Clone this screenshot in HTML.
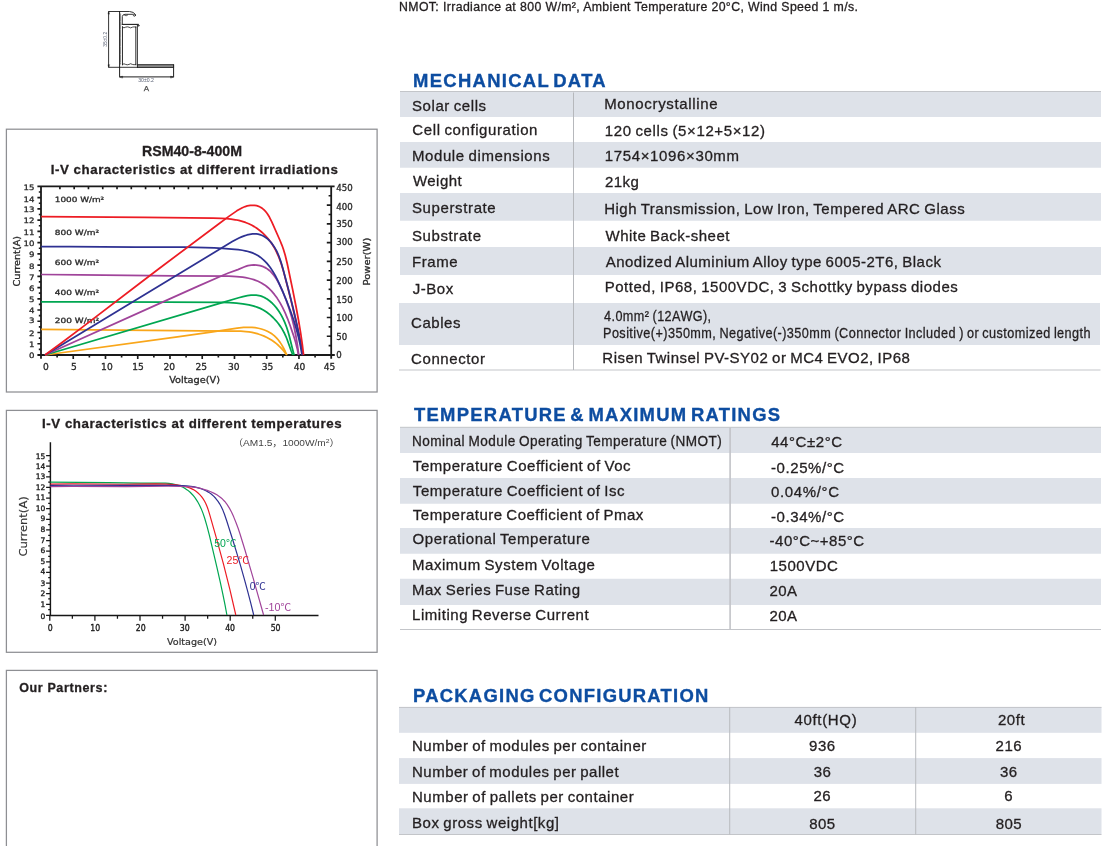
<!DOCTYPE html>
<html lang="en">
<head>
<meta charset="utf-8">
<title>RSM40-8-400M datasheet</title>
<style>
html,body{margin:0;padding:0;background:#fff;}
body{width:1108px;height:846px;position:relative;overflow:hidden;font-family:"Liberation Sans",sans-serif;color:#231f20;}
.t{position:absolute;white-space:pre;line-height:1;transform-origin:0 50%;-webkit-text-stroke:0.3px;}
.h{-webkit-text-stroke:0.35px;}
svg{position:absolute;left:0;top:0;}
svg .dv{font-family:"DejaVu Sans","Liberation Sans",sans-serif;}
svg .dvc{font-family:"DejaVu Sans Condensed","DejaVu Sans","Liberation Sans",sans-serif;}
svg .ls{font-family:"Liberation Sans","Noto Sans CJK SC",sans-serif;}
</style>
</head>
<body>
<svg width="1108" height="846" viewBox="0 0 1108 846">
<g class="tables">
<rect x="400.00" y="92.00" width="701.00" height="25.00" fill="#dee2e9"/>
<rect x="400.00" y="142.00" width="701.00" height="25.75" fill="#dee2e9"/>
<rect x="400.00" y="193.00" width="701.00" height="27.75" fill="#dee2e9"/>
<rect x="400.00" y="247.00" width="701.00" height="28.00" fill="#dee2e9"/>
<rect x="399.00" y="303.00" width="701.00" height="42.00" fill="#dee2e9"/>
<rect x="400.00" y="91.00" width="701.00" height="1.00" fill="#c3c5c9"/>
<rect x="399.00" y="369.50" width="701.50" height="1.00" fill="#c3c5c9"/>
<rect x="573.00" y="92.50" width="1.00" height="277.50" fill="#b6b8bc"/>
<rect x="400.00" y="427.25" width="701.00" height="25.75" fill="#dee2e9"/>
<rect x="400.00" y="478.00" width="701.00" height="25.75" fill="#dee2e9"/>
<rect x="400.00" y="528.00" width="701.00" height="25.75" fill="#dee2e9"/>
<rect x="400.00" y="578.75" width="701.00" height="26.25" fill="#dee2e9"/>
<rect x="400.00" y="426.80" width="701.00" height="1.00" fill="#c3c5c9"/>
<rect x="400.00" y="629.00" width="701.00" height="1.00" fill="#c3c5c9"/>
<rect x="729.30" y="427.50" width="1.60" height="202.00" fill="#c2c4c8"/>
<rect x="399.00" y="707.00" width="702.50" height="25.80" fill="#dee2e9"/>
<rect x="399.00" y="758.10" width="702.50" height="25.80" fill="#dee2e9"/>
<rect x="399.00" y="808.30" width="702.50" height="25.90" fill="#dee2e9"/>
<rect x="399.00" y="706.90" width="702.50" height="1.00" fill="#c3c5c9"/>
<rect x="399.00" y="834.00" width="702.50" height="1.00" fill="#c3c5c9"/>
<rect x="729.20" y="707.00" width="1.00" height="127.50" fill="#b9bbbf"/>
<rect x="915.20" y="707.00" width="1.00" height="127.50" fill="#b9bbbf"/>
</g>
<g class="boxes" fill="none" stroke="#8e8f93" stroke-width="1.25">
<rect x="6.4" y="129.2" width="370.70" height="262.80"/>
<rect x="6.4" y="410.4" width="370.70" height="241.90"/>
<rect x="6.4" y="670.4" width="370.70" height="189.60"/>
</g>
<g class="chart1">
<path d="M41.0,186.4V358.8M331.2,186.4V358.8M37.4,186.4H334.59999999999997M37.4,355.0H334.8" stroke="#1a1a1a" stroke-width="1.8" fill="none"/>
<path d="M57.12,355.0v2.6M73.24,355.0v3.9M89.37,355.0v2.6M105.49,355.0v3.9M121.61,355.0v2.6M137.73,355.0v3.9M153.86,355.0v2.6M169.98,355.0v3.9M186.10,355.0v2.6M202.22,355.0v3.9M218.34,355.0v2.6M234.47,355.0v3.9M250.59,355.0v2.6M266.71,355.0v3.9M282.83,355.0v2.6M298.96,355.0v3.9M315.08,355.0v2.6M59.90,186.4v2.9M74.18,186.4v2.9M88.46,186.4v2.9M102.74,186.4v2.9M117.02,186.4v2.9M131.30,186.4v2.9M145.58,186.4v2.9M159.86,186.4v2.9M174.14,186.4v2.9M188.42,186.4v2.9M202.70,186.4v2.9M216.98,186.4v2.9M231.26,186.4v2.9M245.54,186.4v2.9M259.82,186.4v2.9M274.10,186.4v2.9M288.38,186.4v2.9M302.66,186.4v2.9M316.94,186.4v2.9M41.0,349.38h-2.2M41.0,343.76h-3.6M41.0,338.14h-2.2M41.0,332.52h-3.6M41.0,326.90h-2.2M41.0,321.28h-3.6M41.0,315.66h-2.2M41.0,310.04h-3.6M41.0,304.42h-2.2M41.0,298.80h-3.6M41.0,293.18h-2.2M41.0,287.56h-3.6M41.0,281.94h-2.2M41.0,276.32h-3.6M41.0,270.70h-2.2M41.0,265.08h-3.6M41.0,259.46h-2.2M41.0,253.84h-3.6M41.0,248.22h-2.2M41.0,242.60h-3.6M41.0,236.98h-2.2M41.0,231.36h-3.6M41.0,225.74h-2.2M41.0,220.12h-3.6M41.0,214.50h-2.2M41.0,208.88h-3.6M41.0,203.26h-2.2M41.0,197.64h-3.6M41.0,192.02h-2.2M331.2,345.63h-2.6M331.2,336.27h-4.4M331.2,326.90h-2.6M331.2,317.53h-4.4M331.2,308.17h-2.6M331.2,298.80h-4.4M331.2,289.43h-2.6M331.2,280.07h-4.4M331.2,270.70h-2.6M331.2,261.33h-4.4M331.2,251.97h-2.6M331.2,242.60h-4.4M331.2,233.23h-2.6M331.2,223.87h-4.4M331.2,214.50h-2.6M331.2,205.13h-4.4M331.2,195.77h-2.6" stroke="#1a1a1a" stroke-width="1.65" fill="none"/>
<g class="dv" fill="#2a2a2a" stroke="#2a2a2a" stroke-width="0.3">
<text x="29.03" y="357.55" font-size="7.4" textLength="5.47" lengthAdjust="spacingAndGlyphs">0</text>
<text x="29.03" y="346.95" font-size="7.4" textLength="5.47" lengthAdjust="spacingAndGlyphs">1</text>
<text x="29.03" y="335.75" font-size="7.4" textLength="5.47" lengthAdjust="spacingAndGlyphs">2</text>
<text x="29.03" y="323.35" font-size="7.4" textLength="5.47" lengthAdjust="spacingAndGlyphs">3</text>
<text x="29.03" y="313.45" font-size="7.4" textLength="5.47" lengthAdjust="spacingAndGlyphs">4</text>
<text x="29.03" y="302.45" font-size="7.4" textLength="5.47" lengthAdjust="spacingAndGlyphs">5</text>
<text x="29.03" y="290.65" font-size="7.4" textLength="5.47" lengthAdjust="spacingAndGlyphs">6</text>
<text x="29.03" y="280.25" font-size="7.4" textLength="5.47" lengthAdjust="spacingAndGlyphs">7</text>
<text x="29.03" y="268.65" font-size="7.4" textLength="5.47" lengthAdjust="spacingAndGlyphs">8</text>
<text x="29.03" y="257.45" font-size="7.4" textLength="5.47" lengthAdjust="spacingAndGlyphs">9</text>
<text x="23.56" y="245.95" font-size="7.4" textLength="10.94" lengthAdjust="spacingAndGlyphs">10</text>
<text x="23.56" y="234.75" font-size="7.4" textLength="10.94" lengthAdjust="spacingAndGlyphs">11</text>
<text x="23.56" y="222.55" font-size="7.4" textLength="10.94" lengthAdjust="spacingAndGlyphs">12</text>
<text x="23.56" y="211.75" font-size="7.4" textLength="10.94" lengthAdjust="spacingAndGlyphs">13</text>
<text x="23.56" y="201.95" font-size="7.4" textLength="10.94" lengthAdjust="spacingAndGlyphs">14</text>
<text x="23.56" y="189.65" font-size="7.4" textLength="10.94" lengthAdjust="spacingAndGlyphs">15</text>
<text x="336.20" y="357.90" font-size="8.3" textLength="5.47" lengthAdjust="spacingAndGlyphs">0</text>
<text x="336.20" y="340.00" font-size="8.3" textLength="10.94" lengthAdjust="spacingAndGlyphs">50</text>
<text x="336.20" y="321.10" font-size="8.3" textLength="16.42" lengthAdjust="spacingAndGlyphs">100</text>
<text x="336.20" y="302.60" font-size="8.3" textLength="16.42" lengthAdjust="spacingAndGlyphs">150</text>
<text x="336.20" y="283.70" font-size="8.3" textLength="16.42" lengthAdjust="spacingAndGlyphs">200</text>
<text x="336.20" y="265.10" font-size="8.3" textLength="16.42" lengthAdjust="spacingAndGlyphs">250</text>
<text x="336.20" y="245.40" font-size="8.3" textLength="16.42" lengthAdjust="spacingAndGlyphs">300</text>
<text x="336.20" y="226.70" font-size="8.3" textLength="16.42" lengthAdjust="spacingAndGlyphs">350</text>
<text x="336.20" y="209.60" font-size="8.3" textLength="16.42" lengthAdjust="spacingAndGlyphs">400</text>
<text x="336.20" y="190.70" font-size="8.3" textLength="16.42" lengthAdjust="spacingAndGlyphs">450</text>
<text x="43.11" y="369.70" font-size="8.7" textLength="5.79" lengthAdjust="spacingAndGlyphs">0</text>
<text x="71.11" y="369.70" font-size="8.7" textLength="5.79" lengthAdjust="spacingAndGlyphs">5</text>
<text x="101.11" y="369.70" font-size="8.7" textLength="11.58" lengthAdjust="spacingAndGlyphs">10</text>
<text x="132.31" y="369.70" font-size="8.7" textLength="11.58" lengthAdjust="spacingAndGlyphs">15</text>
<text x="163.51" y="369.70" font-size="8.7" textLength="11.58" lengthAdjust="spacingAndGlyphs">20</text>
<text x="195.51" y="369.70" font-size="8.7" textLength="11.58" lengthAdjust="spacingAndGlyphs">25</text>
<text x="228.01" y="369.70" font-size="8.7" textLength="11.58" lengthAdjust="spacingAndGlyphs">30</text>
<text x="261.71" y="369.70" font-size="8.7" textLength="11.58" lengthAdjust="spacingAndGlyphs">35</text>
<text x="293.71" y="369.70" font-size="8.7" textLength="11.58" lengthAdjust="spacingAndGlyphs">40</text>
<text x="323.71" y="369.70" font-size="8.7" textLength="11.58" lengthAdjust="spacingAndGlyphs">45</text>
<text x="54.80" y="201.60" font-size="7.2" textLength="49.40" lengthAdjust="spacingAndGlyphs">1000 W/m²</text>
<text x="54.80" y="235.20" font-size="7.2" textLength="44.20" lengthAdjust="spacingAndGlyphs">800 W/m²</text>
<text x="54.80" y="265.20" font-size="7.2" textLength="44.20" lengthAdjust="spacingAndGlyphs">600 W/m²</text>
<text x="54.80" y="294.90" font-size="7.2" textLength="44.20" lengthAdjust="spacingAndGlyphs">400 W/m²</text>
<text x="54.80" y="322.50" font-size="7.2" textLength="44.20" lengthAdjust="spacingAndGlyphs">200 W/m²</text>
<text x="169.20" y="382.80" font-size="9.2" textLength="50.80" lengthAdjust="spacingAndGlyphs">Voltage(V)</text>
<g transform="translate(20.2,261.2) rotate(-90)">
<text x="-25.25" y="0.00" font-size="9.0" textLength="50.50" lengthAdjust="spacingAndGlyphs">Current(A)</text>
</g>
<g transform="translate(369.6,261.6) rotate(-90)">
<text x="-23.90" y="0.00" font-size="9.0" textLength="47.80" lengthAdjust="spacingAndGlyphs">Power(W)</text>
</g>
</g>
<path d="M41.2,329.4 202.55,330.96 235.05,331 240.79,331.15 245.85,331.52 248.98,331.91 252.09,332.44 255.17,333.12 258.2,333.96 261.18,334.96 264.09,336.13 266.94,337.46 269.15,338.65 271.84,340.29 273.92,341.72 276.43,343.67 278.82,345.77 280.65,347.56 282.83,349.91 284.88,352.4 286.8,355" fill="none" stroke="#f9a61a" stroke-width="1.75" stroke-linejoin="round" stroke-linecap="butt"/>
<path d="M45,355 177.37,336.89 211,332.12 237.16,328.18 243.59,327.48 248.74,327.29 251.96,327.4 255.17,327.71 258.33,328.24 261.44,328.99 264.45,329.98 267.35,331.21 270.11,332.7 272.2,334.09 274.17,335.65 276.46,337.85 278.15,339.79 280.1,342.38 281.88,345.13 283.5,347.99 285.24,351.49 286.8,355" fill="none" stroke="#f9a61a" stroke-width="1.75" stroke-linejoin="round" stroke-linecap="butt"/>
<path d="M41.2,301.8 78.2,301.84 166.79,302.2 221.29,302.3 229.66,302.56 236.59,303.05 242.8,303.78 248.96,304.87 253.02,305.84 256.99,307.09 260.21,308.39 263.31,309.99 266.83,312.3 270.15,314.91 273.24,317.75 276.1,320.8 278.31,323.49 280.74,326.88 282.58,329.83 284.55,333.51 285.72,336.03 287.04,339.26 291.02,350.46 292.8,355" fill="none" stroke="#00a651" stroke-width="1.75" stroke-linejoin="round" stroke-linecap="butt"/>
<path d="M45,355 223.05,302.44 238.66,297.75 242.97,296.6 247.34,295.7 251.04,295.23 253.99,295.1 256.18,295.19 257.62,295.35 260.45,295.93 261.82,296.37 263.83,297.21 265.13,297.88 267.03,299.02 270.02,301.24 271.71,302.72 273.31,304.29 276.25,307.63 278.87,311.21 280.83,314.36 282.92,318.29 284.76,322.36 286.63,327.22 288,331.44 289.22,335.68 292.76,349.95 294.1,355" fill="none" stroke="#00a651" stroke-width="1.75" stroke-linejoin="round" stroke-linecap="butt"/>
<path d="M41.2,274.5 80.9,274.81 173.94,275.88 228.97,276.21 236.58,276.56 242.63,277.19 245.63,277.66 248.62,278.26 251.58,278.99 253.78,279.64 258.05,281.24 261.43,282.91 264.61,284.92 266.42,286.28 268.15,287.74 271.41,290.93 274.39,294.4 277.1,298.1 279.96,302.61 282.53,307.31 285.16,312.86 287.53,318.54 290.2,325.74 293.39,335.11 295.61,342.33 297.31,348.95 298.5,355" fill="none" stroke="#a0449a" stroke-width="1.75" stroke-linejoin="round" stroke-linecap="butt"/>
<path d="M45,355 169.18,299.08 197.6,286.42 223,275.26 228.44,273.02 237.88,269.57 244.02,267.03 246.36,266.17 247.98,265.7 249.66,265.34 251.37,265.1 254,264.96 256.63,265.09 258.36,265.32 260.05,265.66 261.68,266.12 263.24,266.68 264.73,267.36 266.14,268.14 268.13,269.48 269.38,270.48 271.14,272.13 272.24,273.33 273.8,275.23 275.25,277.26 276.61,279.4 277.89,281.62 279.48,284.67 283.07,292.48 286.24,300.35 289,308.29 291.63,317.1 293.86,326.01 295.73,335 297.42,344.94 298.8,355" fill="none" stroke="#a0449a" stroke-width="1.75" stroke-linejoin="round" stroke-linecap="butt"/>
<path d="M41.2,216.6 144.52,217.46 213.12,218.13 221.23,218.33 226.59,218.65 231.02,219.1 235.38,219.76 238.81,220.47 242.2,221.35 245.51,222.44 248.76,223.76 251.93,225.31 254.24,226.62 256.49,228.05 260.08,230.71 262.13,232.46 264.1,234.31 265.98,236.25 267.77,238.28 271.06,242.55 273.94,247.05 275.23,249.37 276.81,252.53 279.25,258.21 281.33,264.05 283.65,271.72 287.06,284.68 291.18,301.1 294.5,314.94 297.64,328.82 300.42,341.88 303,355" fill="none" stroke="#ed1c24" stroke-width="1.75" stroke-linejoin="round" stroke-linecap="butt"/>
<path d="M41.2,246.5 69.19,246.55 135.16,247.21 184.53,247.18 195.23,247.31 205.12,247.55 214.2,247.9 222.46,248.35 231.56,249.03 238.18,249.68 242.28,250.25 246.29,251.03 250.2,252.09 253.23,253.19 256.85,254.95 258.25,255.78 260.28,257.18 263.48,259.82 265.28,261.57 266.98,263.41 270.09,267.28 272.86,271.38 275.34,275.65 277.95,280.79 282.35,290.59 286.78,301.26 290.59,311.26 293.79,320.59 296.41,329.23 298.7,337.98 300.61,346.84 302,355" fill="none" stroke="#2e3192" stroke-width="1.75" stroke-linejoin="round" stroke-linecap="butt"/>
<path d="M45,355 232.3,241.55 235.63,239.69 239.01,237.99 241.6,236.84 244.25,235.82 246.97,234.97 249.75,234.31 252.56,233.93 254.43,233.86 256.28,233.95 258.11,234.21 259.9,234.64 261.63,235.24 263.29,236.01 264.89,236.93 266.42,238 267.87,239.19 269.26,240.5 271.22,242.66 272.43,244.2 274.11,246.64 276.57,250.93 277.82,253.57 278.94,256.23 280.82,261.61 282.92,268.86 288.56,289.91 292.97,307.46 296.01,320.46 298.63,332.57 300.83,343.78 302.8,355" fill="none" stroke="#2e3192" stroke-width="1.75" stroke-linejoin="round" stroke-linecap="butt"/>
<path d="M45,355 62.03,342.48 81.46,327.89 140.16,282.95 159.53,268.25 218.62,223.93 228.86,216.39 236.79,210.87 239.53,209.21 242.34,207.74 245.24,206.56 247.23,205.96 250.31,205.39 252.43,205.27 254.55,205.37 256.63,205.71 258.62,206.32 260.49,207.2 262.22,208.31 263.8,209.61 265.24,211.06 267.17,213.47 269.39,217.06 271.79,221.91 280.03,240.49 281.99,245.31 283.4,249.22 285.21,255.24 287.21,263.45 292.61,289.42 296.1,307.02 298.57,320.49 300.64,332.98 302.31,344.48 303.6,355" fill="none" stroke="#ed1c24" stroke-width="1.75" stroke-linejoin="round" stroke-linecap="butt"/>
</g>
<g class="chart2">
<path d="M50.4,442.2V616.1M49.699999999999996,615.4H318.5" stroke="#161616" stroke-width="1.45" fill="none"/>
<path d="M50.4,609.59h-2.2M50.4,604.28h-4.3M50.4,598.97h-2.2M50.4,593.66h-4.3M50.4,588.35h-2.2M50.4,583.04h-4.3M50.4,577.73h-2.2M50.4,572.42h-4.3M50.4,567.11h-2.2M50.4,561.80h-4.3M50.4,556.49h-2.2M50.4,551.18h-4.3M50.4,545.87h-2.2M50.4,540.56h-4.3M50.4,535.25h-2.2M50.4,529.94h-4.3M50.4,524.63h-2.2M50.4,519.32h-4.3M50.4,514.01h-2.2M50.4,508.70h-4.3M50.4,503.39h-2.2M50.4,498.08h-4.3M50.4,492.77h-2.2M50.4,487.46h-4.3M50.4,482.15h-2.2M50.4,476.84h-4.3M50.4,471.53h-2.2M50.4,466.22h-4.3M50.4,460.91h-2.2M50.4,455.60h-4.3M50.4,615.4h-4.3M49.80,615.4v5.3M72.35,615.4v3.4M94.90,615.4v5.3M117.45,615.4v3.4M140.00,615.4v5.3M162.55,615.4v3.4M185.10,615.4v5.3M207.65,615.4v3.4M230.20,615.4v5.3M252.75,615.4v3.4M275.30,615.4v5.3" stroke="#161616" stroke-width="1.25" fill="none"/>
<path d="M50.4,482.1 108.24,482.67 140.82,483.14 148.31,483.16 159.28,483.01 165.44,483.16 168.84,483.43 172.2,483.88 175.52,484.55 178.11,485.28 180.64,486.2 183.07,487.31 185.4,488.63 187.61,490.14 190.18,492.29 192.99,495.21 195.12,497.88 197.4,501.31 199.42,504.92 201.18,508.65 202.96,513.1 204.7,518.26 206.99,526.09 209.4,535.3 216.87,567.06 220.16,581.66 222.73,593.64 225.02,604.97 226.9,615" fill="none" stroke="#00a651" stroke-width="1.2" stroke-linejoin="round"/>
<path d="M50.4,484.1 72.01,483.97 123.65,484.27 134.8,484.19 156.37,483.86 166.13,484.06 171.03,484.37 175.94,484.85 180.16,485.44 184.31,486.27 187.68,487.2 190.26,488.14 193.34,489.6 195.64,491.03 197.77,492.7 199.74,494.6 201.54,496.68 203.17,498.93 204.62,501.31 205.88,503.8 207.25,507.03 208.41,510.35 209.85,515.09 217.11,540.65 223.49,564.13 229.79,589.2 235.8,615" fill="none" stroke="#ed1c24" stroke-width="1.2" stroke-linejoin="round"/>
<path d="M50.4,485.3 73.8,485.25 126.53,485.37 160.87,485.28 172.57,485.41 182.11,485.68 186.51,485.94 190.89,486.38 194.52,486.96 197.4,487.6 200.94,488.64 203.69,489.69 206.33,490.93 208.84,492.38 211.19,494.04 213.88,496.41 215.83,498.52 218.05,501.38 219.63,503.82 221.4,507.02 222.95,510.35 224.56,514.46 226.68,520.77 233.11,541.04 236.96,553.59 240.69,566.2 244.29,578.88 247.56,590.9 250.7,602.94 253.7,615" fill="none" stroke="#2e3192" stroke-width="1.2" stroke-linejoin="round"/>
<path d="M50.4,486.6 72.13,486.52 126.03,486.53 168.01,486.27 179.95,486.34 186.64,486.53 191.09,486.84 194.79,487.28 198.48,487.93 202.87,489 207.22,490.38 210.78,491.76 214.23,493.37 216.87,494.85 219.95,496.94 222.22,498.83 224.76,501.46 227.01,504.36 229.39,508.11 231.49,512.08 233.68,516.86 235.96,522.42 238.03,528.05 239.95,533.74 245.03,550.22 252.58,576.09 263.6,615" fill="none" stroke="#a0449a" stroke-width="1.2" stroke-linejoin="round"/>
<g class="dv" fill="#1c1c1c" stroke="#1c1c1c" stroke-width="0.35">
<text x="40.53" y="618.65" font-size="7.5">0</text>
<text x="40.53" y="606.55" font-size="7.5">1</text>
<text x="40.53" y="595.75" font-size="7.5">2</text>
<text x="40.53" y="585.65" font-size="7.5">3</text>
<text x="40.53" y="574.45" font-size="7.5">4</text>
<text x="40.53" y="563.95" font-size="7.5">5</text>
<text x="40.53" y="552.65" font-size="7.5">6</text>
<text x="40.53" y="542.55" font-size="7.5">7</text>
<text x="40.53" y="531.95" font-size="7.5">8</text>
<text x="40.53" y="521.45" font-size="7.5">9</text>
<text x="35.76" y="510.65" font-size="7.5">10</text>
<text x="35.76" y="499.75" font-size="7.5">11</text>
<text x="35.76" y="490.05" font-size="7.5">12</text>
<text x="35.76" y="479.45" font-size="7.5">13</text>
<text x="35.76" y="468.75" font-size="7.5">14</text>
<text x="35.76" y="458.65" font-size="7.5">15</text>
<text x="47.72" y="630.50" font-size="8.5" textLength="4.96" lengthAdjust="spacingAndGlyphs">0</text>
<text x="90.34" y="630.50" font-size="8.5" textLength="9.93" lengthAdjust="spacingAndGlyphs">10</text>
<text x="135.84" y="630.50" font-size="8.5" textLength="9.93" lengthAdjust="spacingAndGlyphs">20</text>
<text x="179.84" y="630.50" font-size="8.5" textLength="9.93" lengthAdjust="spacingAndGlyphs">30</text>
<text x="225.14" y="630.50" font-size="8.5" textLength="9.93" lengthAdjust="spacingAndGlyphs">40</text>
<text x="270.64" y="630.50" font-size="8.5" textLength="9.93" lengthAdjust="spacingAndGlyphs">50</text>
</g>
<g class="dv" fill="#333" stroke="#333" stroke-width="0.2">
<text x="167.00" y="645.00" font-size="9.0" textLength="50.00" lengthAdjust="spacingAndGlyphs">Voltage(V)</text>
<g transform="translate(26.9,526.4) rotate(-90)">
<text x="-30.20" y="0.00" font-size="11.2" textLength="60.40" lengthAdjust="spacingAndGlyphs">Current(A)</text>
</g>
</g>
<g class="ls" font-size="10" stroke-width="0.3">
<text x="214.2" y="547.0" fill="#00a651" textLength="22.2" lengthAdjust="spacingAndGlyphs">50℃</text>
<text x="226.6" y="564.1" fill="#ed1c24" textLength="22.4" lengthAdjust="spacingAndGlyphs">25℃</text>
<text x="249.7" y="590.1" fill="#2e3192" textLength="16.0" lengthAdjust="spacingAndGlyphs">0℃</text>
<text x="265.0" y="611.2" fill="#a0449a" textLength="26.2" lengthAdjust="spacingAndGlyphs">-10℃</text>
</g>
<text class="ls" x="233.0" y="446.3" font-size="9.2" fill="#444" textLength="106.6" lengthAdjust="spacingAndGlyphs">（AM1.5，1000W/m<tspan dy="-3.4" font-size="6.2">2</tspan><tspan dy="3.4">）</tspan></text>
</g>
<g class="profile" fill="none" stroke="#1e1e1e" stroke-width="1" stroke-linecap="square">
<path d="M119.6,11.5H108.6V67.3H119.6" stroke-width="0.9"/>
<path d="M119.6,11.5V76.9H173.6V65" />
<path d="M119.6,11.5H129.5Q133.6,11.7 135.2,14.2" stroke-width="0.9"/>
<circle cx="134.4" cy="15.2" r="1.05" stroke-width="0.8"/>
<path d="M122.3,24V16.6Q122.5,14.4 125,14.3H132.6" stroke-width="0.9"/>
<path d="M124.6,15.4Q126.2,16.6 127.6,15.2" stroke-width="0.7"/>
<path d="M122.3,24.4H138.2" stroke-width="1.1"/>
<circle cx="138.3" cy="25.6" r="0.7" stroke-width="0.7"/>
<path d="M122.5,26.8V64.8M135.8,26.8V64.8" stroke-width="0.9"/>
<path d="M122.5,27.2Q124,28.6 125.6,27.2Q127.3,26.4 129,27.2Q130.6,28.6 132.3,27.2Q134,26.4 135.8,27.2" stroke-width="0.8"/>
<path d="M122.5,64.4Q124,63 125.6,64.4Q127.3,65.2 129,64.4Q130.6,63 132.3,64.4Q134,65.2 135.8,64.4" stroke-width="0.8"/>
<path d="M137.4,25.6V65" stroke-width="0.9"/>
<path d="M120.6,14V64" stroke-width="0.5" stroke-dasharray="7 1.2"/>
<rect x="137.4" y="64.7" width="36.2" height="2.7" fill="#8c8c8c" stroke-width="0.9"/>
<path d="M119.6,67.3H137.4" stroke-width="0.9"/>
<path d="M119.6,76.9l3,-0.7v1.4zM173.6,76.9l-3,-0.7v1.4zM108.6,11.5l-0.6,2.6h1.2zM108.6,67.3l-0.6,-2.6h1.2z" fill="#1e1e1e" stroke-width="0.4"/>
</g>
<g class="ls">
<text x="146.1" y="81.9" font-size="4.9" fill="#5d6477" text-anchor="middle" textLength="15.8" lengthAdjust="spacingAndGlyphs">30±0.2</text>
<text transform="translate(107.3,39.3) rotate(-90)" font-size="4.9" fill="#5d6477" text-anchor="middle" textLength="14.8" lengthAdjust="spacingAndGlyphs">35±0.2</text>
<text x="146.3" y="91.0" font-size="8" fill="#4a4a4a" stroke="#4a4a4a" stroke-width="0.25" text-anchor="middle">A</text>
</g>
</svg>
<span class="t " style="left:399.00px;top:1.01px;font-size:12.3px;letter-spacing:0.376px;">NMOT: Irradiance at 800 W/m², Ambient Temperature 20°C, Wind Speed 1 m/s.</span>
<section class="mech">
<span class="t h" style="left:412.60px;top:71.01px;font-size:19px;letter-spacing:1.358px;word-spacing:-3.00px;font-weight:700;color:#0d4da1;transform:scaleX(0.9700);">MECHANICAL DATA</span>
<span class="t " style="left:412.00px;top:98.01px;font-size:15px;letter-spacing:0.577px;word-spacing:-0.90px;">Solar cells</span>
<span class="t " style="left:412.37px;top:122.01px;font-size:15px;letter-spacing:0.592px;word-spacing:-0.90px;">Cell configuration</span>
<span class="t " style="left:412.00px;top:148.01px;font-size:15px;letter-spacing:0.587px;word-spacing:-0.90px;">Module dimensions</span>
<span class="t " style="left:413.00px;top:173.01px;font-size:15px;letter-spacing:0.444px;">Weight</span>
<span class="t " style="left:412.00px;top:200.01px;font-size:15px;letter-spacing:0.617px;">Superstrate</span>
<span class="t " style="left:412.00px;top:228.01px;font-size:15px;letter-spacing:0.597px;">Substrate</span>
<span class="t " style="left:412.00px;top:254.01px;font-size:15px;letter-spacing:0.594px;">Frame</span>
<span class="t " style="left:412.86px;top:281.01px;font-size:15px;letter-spacing:0.486px;">J-Box</span>
<span class="t " style="left:411.06px;top:315.01px;font-size:15px;letter-spacing:0.538px;">Cables</span>
<span class="t " style="left:411.10px;top:351.01px;font-size:15px;letter-spacing:0.586px;">Connector</span>
<span class="t " style="left:604.13px;top:96.01px;font-size:15px;letter-spacing:0.667px;">Monocrystalline</span>
<span class="t " style="left:604.73px;top:123.01px;font-size:15px;letter-spacing:0.619px;word-spacing:-0.90px;">120 cells (5×12+5×12)</span>
<span class="t " style="left:604.75px;top:148.01px;font-size:15px;letter-spacing:0.640px;">1754×1096×30mm</span>
<span class="t " style="left:605.09px;top:174.01px;font-size:15px;letter-spacing:0.403px;">21kg</span>
<span class="t " style="left:604.13px;top:201.01px;font-size:15px;letter-spacing:0.532px;word-spacing:-0.90px;">High Transmission, Low Iron, Tempered ARC Glass</span>
<span class="t " style="left:605.62px;top:228.01px;font-size:15px;letter-spacing:0.475px;word-spacing:-0.90px;">White Back-sheet</span>
<span class="t " style="left:605.66px;top:254.01px;font-size:15px;letter-spacing:0.503px;word-spacing:-0.90px;">Anodized Aluminium Alloy type 6005-2T6, Black</span>
<span class="t " style="left:604.73px;top:279.01px;font-size:15px;letter-spacing:0.524px;word-spacing:-0.90px;">Potted, IP68, 1500VDC, 3 Schottky bypass diodes</span>
<span class="t " style="left:602.34px;top:350.01px;font-size:15px;letter-spacing:0.498px;word-spacing:-0.90px;">Risen Twinsel PV-SY02 or MC4 EVO2, IP68</span>
<span class="t " style="left:604.44px;top:308.01px;font-size:15px;letter-spacing:0.500px;word-spacing:-0.90px;transform:scaleX(0.8420);">4.0mm² (12AWG),</span>
<span class="t " style="left:603.00px;top:325.01px;font-size:15px;letter-spacing:0.500px;word-spacing:-0.90px;transform:scaleX(0.8457);">Positive(+)350mm, Negative(-)350mm (Connector Included ) or customized length</span>
</section>
<section class="temp">
<span class="t h" style="left:413.60px;top:405.01px;font-size:19px;letter-spacing:1.310px;word-spacing:-3.00px;font-weight:700;color:#0d4da1;transform:scaleX(0.9700);">TEMPERATURE &amp; MAXIMUM RATINGS</span>
<span class="t " style="left:412.00px;top:433.01px;font-size:15px;letter-spacing:0.500px;word-spacing:-0.90px;transform:scaleX(0.9054);">Nominal Module Operating Temperature (NMOT)</span>
<span class="t " style="left:412.87px;top:458.01px;font-size:15px;letter-spacing:0.538px;word-spacing:-0.90px;">Temperature Coefficient of Voc</span>
<span class="t " style="left:412.87px;top:483.01px;font-size:15px;letter-spacing:0.530px;word-spacing:-0.90px;">Temperature Coefficient of Isc</span>
<span class="t " style="left:412.87px;top:507.01px;font-size:15px;letter-spacing:0.500px;word-spacing:-0.90px;">Temperature Coefficient of Pmax</span>
<span class="t " style="left:412.60px;top:531.01px;font-size:15px;letter-spacing:0.567px;word-spacing:-0.90px;">Operational Temperature</span>
<span class="t " style="left:412.00px;top:557.01px;font-size:15px;letter-spacing:0.537px;word-spacing:-0.90px;">Maximum System Voltage</span>
<span class="t " style="left:412.00px;top:582.01px;font-size:15px;letter-spacing:0.506px;word-spacing:-0.90px;">Max Series Fuse Rating</span>
<span class="t " style="left:412.00px;top:607.01px;font-size:15px;letter-spacing:0.545px;word-spacing:-0.90px;">Limiting Reverse Current</span>
<span class="t " style="left:771.18px;top:434.01px;font-size:15px;letter-spacing:0.573px;">44°C±2°C</span>
<span class="t " style="left:771.00px;top:460.01px;font-size:15px;letter-spacing:0.573px;">-0.25%/°C</span>
<span class="t " style="left:770.88px;top:484.01px;font-size:15px;letter-spacing:0.673px;">0.04%/°C</span>
<span class="t " style="left:771.00px;top:509.01px;font-size:15px;letter-spacing:0.573px;">-0.34%/°C</span>
<span class="t " style="left:769.61px;top:533.01px;font-size:15px;letter-spacing:0.492px;">-40°C~+85°C</span>
<span class="t " style="left:769.75px;top:558.01px;font-size:15px;letter-spacing:0.520px;">1500VDC</span>
<span class="t " style="left:769.49px;top:583.01px;font-size:15px;letter-spacing:0.408px;">20A</span>
<span class="t " style="left:769.49px;top:608.01px;font-size:15px;letter-spacing:0.408px;">20A</span>
</section>
<section class="pack">
<span class="t h" style="left:412.60px;top:686.01px;font-size:19px;letter-spacing:1.294px;word-spacing:-3.00px;font-weight:700;color:#0d4da1;transform:scaleX(0.9700);">PACKAGING CONFIGURATION</span>
<span class="t " style="left:412.00px;top:738.01px;font-size:15px;letter-spacing:0.507px;word-spacing:-0.90px;">Number of modules per container</span>
<span class="t " style="left:412.00px;top:764.01px;font-size:15px;letter-spacing:0.497px;word-spacing:-0.90px;">Number of modules per pallet</span>
<span class="t " style="left:412.00px;top:789.00px;font-size:15px;letter-spacing:0.533px;word-spacing:-0.90px;">Number of pallets per container</span>
<span class="t " style="left:412.00px;top:815.01px;font-size:15px;letter-spacing:0.544px;word-spacing:-0.90px;">Box gross weight[kg]</span>
<span class="t " style="left:794.50px;top:712.01px;font-size:15px;letter-spacing:0.660px;">40ft(HQ)</span>
<span class="t " style="left:998.01px;top:712.01px;font-size:15px;letter-spacing:0.531px;">20ft</span>
<span class="t " style="left:809.09px;top:738.01px;font-size:15px;letter-spacing:0.500px;">936</span>
<span class="t " style="left:995.59px;top:738.01px;font-size:15px;letter-spacing:0.500px;">216</span>
<span class="t " style="left:813.71px;top:764.01px;font-size:15px;letter-spacing:0.500px;">36</span>
<span class="t " style="left:1000.01px;top:764.01px;font-size:15px;letter-spacing:0.500px;">36</span>
<span class="t " style="left:813.51px;top:788.00px;font-size:15px;letter-spacing:0.500px;">26</span>
<span class="t " style="left:1004.37px;top:788.00px;font-size:15px;letter-spacing:0.500px;">6</span>
<span class="t " style="left:809.16px;top:816.01px;font-size:15px;letter-spacing:0.500px;">805</span>
<span class="t " style="left:995.66px;top:816.01px;font-size:15px;letter-spacing:0.500px;">805</span>
</section>
<span class="t " style="left:141.80px;top:144.00px;font-size:14.6px;font-weight:700;transform:scaleX(0.9708);">RSM40-8-400M</span>
<span class="t " style="left:50.74px;top:163.01px;font-size:13.3px;letter-spacing:0.546px;font-weight:700;">I-V characteristics at different irradiations</span>
<span class="t " style="left:41.97px;top:417.01px;font-size:13.3px;letter-spacing:0.562px;font-weight:700;">I-V characteristics at different temperatures</span>
<span class="t " style="left:19.13px;top:682.01px;font-size:12.5px;letter-spacing:0.639px;font-weight:700;">Our Partners:</span>
</body>
</html>
